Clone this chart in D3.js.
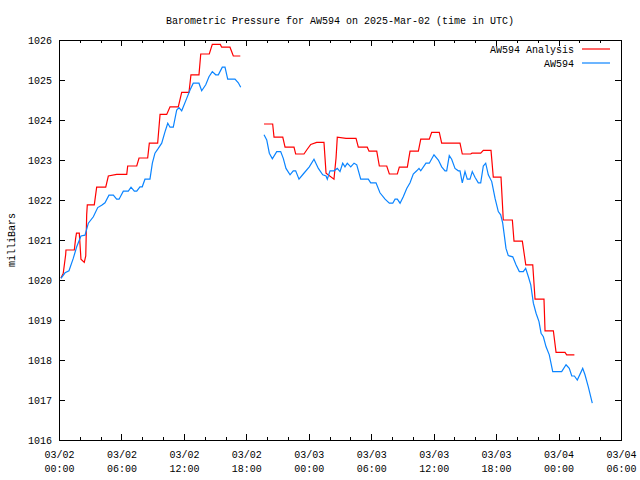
<!DOCTYPE html>
<html><head><meta charset="utf-8">
<script src="https://cdn.jsdelivr.net/npm/d3@7"></script>
<style>
body{margin:0;background:#fff;}
svg text{font-family:"Liberation Mono","DejaVu Sans Mono",monospace;font-size:10px;fill:#000;}
</style></head><body>
<svg id="chart" width="640" height="480"></svg>
<script>
// hours after 2025-03-02 00:00 UTC; null = gap
const obsHours = [0.19,0.58,0.96,1.37,1.70,2.11,2.50,2.82,3.30,3.72,4.10,4.42,4.80,5.22,5.54,5.77,6.18,6.66,6.92,7.24,7.47,7.78,8.00,8.26,8.74,8.97,9.22,9.54,9.87,10.19,10.45,10.67,10.98,11.31,11.53,11.79,12.27,12.59,12.90,13.45,13.71,14.10,14.41,14.73,15.06,15.31,15.69,15.95,16.21,16.91,17.23,17.46,
 18.5,
 19.70,19.96,20.21,20.50,20.92,21.30,21.55,21.81,22.20,22.51,22.74,23.06,23.47,24.05,24.50,24.92,25.34,25.66,25.78,26.04,26.42,26.74,27.00,27.26,27.48,27.70,28.03,28.35,28.61,28.99,29.72,29.95,30.46,30.84,31.33,31.74,32.07,32.29,32.51,32.77,33.08,33.41,33.73,34.04,34.37,34.59,34.76,35.26,35.58,36.03,36.45,36.77,37.09,37.25,37.50,37.73,38.05,38.37,38.53,38.75,39.01,39.23,39.49,39.71,39.97,40.29,40.52,40.77,41.00,41.25,41.58,41.90,42.21,42.44,42.63,42.76,42.95,43.17,43.60,43.91,44.23,44.61,44.84,45.10,45.33,45.58,45.84,46.12,46.32,46.54,46.80,47.11,47.44,48.30,48.72,49.03,49.27,49.52,49.80,50.32,50.54,50.86,51.24];
const obsValues = [1020.04,1020.18,1020.23,1020.54,1020.83,1021.10,1021.12,1021.42,1021.58,1021.81,1021.87,1021.93,1022.12,1022.12,1022.02,1022.02,1022.22,1022.22,1022.32,1022.22,1022.22,1022.33,1022.33,1022.52,1022.52,1022.92,1023.17,1023.29,1023.42,1023.71,1023.92,1023.82,1023.82,1024.25,1024.31,1024.23,1024.54,1024.75,1024.92,1024.92,1024.73,1024.88,1025.08,1025.21,1025.13,1025.13,1025.32,1025.32,1025.02,1025.02,1024.93,1024.82,
 null,
 1023.63,1023.50,1023.17,1023.03,1023.21,1023.21,1023.04,1022.79,1022.63,1022.73,1022.73,1022.52,1022.65,1022.83,1023.02,1022.79,1022.63,1022.60,1022.52,1022.73,1022.73,1022.79,1022.71,1022.92,1022.83,1022.92,1022.83,1022.92,1022.88,1022.52,1022.52,1022.43,1022.43,1022.18,1022.02,1021.92,1021.92,1022.02,1022.02,1021.92,1022.08,1022.29,1022.43,1022.65,1022.73,1022.79,1022.73,1022.92,1022.92,1023.13,1023.00,1022.83,1022.73,1022.73,1023.11,1023.02,1022.79,1022.73,1022.73,1022.43,1022.71,1022.52,1022.52,1022.71,1022.57,1022.43,1022.43,1022.85,1022.92,1022.63,1022.46,1022.04,1021.71,1021.63,1021.43,1021.17,1020.79,1020.61,1020.58,1020.38,1020.21,1020.21,1020.29,1020.08,1019.88,1019.42,1019.17,1018.96,1018.67,1018.58,1018.33,1018.13,1017.71,1017.71,1017.88,1017.79,1017.60,1017.60,1017.50,1017.79,1017.63,1017.33,1016.92];

const anaHours = [0.19,0.41,0.64,0.67,1.47,1.60,1.68,1.95,2.11,2.43,2.57,2.66,2.72,3.39,3.62,4.49,4.74,5.54,6.51,6.60,7.47,7.69,8.52,8.68,9.48,9.71,10.35,10.67,11.46,11.79,12.49,12.68,13.45,13.62,14.44,14.73,15.50,15.63,16.43,16.75,17.42,
 18.5,
 19.70,20.53,20.66,21.50,21.72,22.58,22.74,23.54,23.80,24.19,24.76,25.46,25.66,26.42,26.62,26.74,27.58,28.54,28.76,29.62,29.79,30.53,30.78,31.49,31.74,32.51,32.70,33.47,33.73,34.53,34.76,35.58,35.81,36.54,36.77,38.53,38.75,39.56,39.68,40.52,40.77,41.51,41.73,42.47,42.69,43.56,43.72,44.52,44.85,45.52,45.74,46.60,46.70,47.50,47.76,48.62,48.78,49.52];
const anaValues = [1020.05,1020.17,1020.63,1020.75,1020.75,1021.04,1021.17,1021.17,1020.52,1020.44,1020.60,1021.63,1021.88,1021.88,1022.32,1022.32,1022.60,1022.64,1022.64,1022.85,1022.85,1023.05,1023.05,1023.42,1023.42,1024.14,1024.14,1024.33,1024.33,1024.69,1024.69,1025.13,1025.13,1025.65,1025.65,1025.89,1025.89,1025.82,1025.82,1025.60,1025.60,
 null,
 1023.90,1023.90,1023.57,1023.57,1023.32,1023.32,1023.15,1023.15,1023.25,1023.39,1023.44,1023.44,1022.67,1022.52,1023.05,1023.57,1023.54,1023.54,1023.32,1023.32,1023.22,1023.22,1022.85,1022.85,1022.65,1022.65,1022.82,1022.82,1023.22,1023.22,1023.52,1023.52,1023.69,1023.69,1023.42,1023.42,1023.15,1023.15,1023.17,1023.17,1023.24,1023.24,1022.57,1022.57,1021.50,1021.50,1020.97,1020.97,1020.38,1020.38,1019.52,1019.52,1018.73,1018.73,1018.19,1018.19,1018.13,1018.13];

const yTicks = [1016,1017,1018,1019,1020,1021,1022,1023,1024,1025,1026];
const seriesNames = ["AW594 Analysis","AW594"];
const seriesColors = ["#ff0000","#0a84ff"];
const titleText = "Barometric Pressure for AW594 on 2025-Mar-02 (time in UTC)";
const yLabel = "milliBars";

const base = Date.UTC(2025,2,2,0,0);
const toDate = h => new Date(base + h*3600e3);

const L=59, R=621, T=40, B=440;
const svg = d3.select("#chart");
const x = d3.scaleUtc().domain([toDate(0), toDate(54)]).range([L,R]);
const y = d3.scaleLinear().domain([1016,1026]).range([B,T]);

// title
svg.append("text").attr("x",340).attr("y",24).attr("text-anchor","middle").text(titleText);
svg.append("text").attr("transform","translate(15,240) rotate(-90)").attr("text-anchor","middle").text(yLabel);

const fmtD = d3.utcFormat("%m/%d"), fmtH = d3.utcFormat("%H:%M");
const majorX = d3.utcHour.every(6).range(toDate(0), toDate(54.01));
const minorX = d3.utcHour.every(2).range(toDate(0), toDate(54.01));

// bottom axis
const gB = svg.append("g").attr("transform",`translate(0,${B})`)
  .call(d3.axisBottom(x).tickValues(majorX).tickSize(-6).tickSizeOuter(0).tickFormat(""));
gB.selectAll(".tick text").remove();
gB.selectAll(".tick").append("text").attr("y",18).attr("text-anchor","middle").each(function(d){
  d3.select(this).append("tspan").attr("x",0).attr("dy",0).text(fmtD(d));
  d3.select(this).append("tspan").attr("x",0).attr("dy",14).text(fmtH(d));
});
svg.append("g").attr("transform",`translate(0,${B})`)
  .call(d3.axisBottom(x).tickValues(minorX).tickSize(-3).tickSizeOuter(0).tickFormat(""));
// top axis mirror
svg.append("g").attr("transform",`translate(0,${T})`)
  .call(d3.axisTop(x).tickValues(majorX).tickSize(-6).tickSizeOuter(0).tickFormat(""));
svg.append("g").attr("transform",`translate(0,${T})`)
  .call(d3.axisTop(x).tickValues(minorX).tickSize(-3).tickSizeOuter(0).tickFormat(""));
// left axis
const gL = svg.append("g").attr("transform",`translate(${L},0)`)
  .call(d3.axisLeft(y).tickValues(yTicks).tickSize(-6).tickSizeOuter(0).tickPadding(7).tickFormat(d3.format("d")));
svg.append("g").attr("transform",`translate(${R},0)`)
  .call(d3.axisRight(y).tickValues(yTicks).tickSize(-6).tickSizeOuter(0).tickFormat(""));
svg.selectAll(".domain").remove();
svg.selectAll(".tick line").attr("stroke","#000").attr("shape-rendering","crispEdges");
svg.selectAll("g text").attr("font-size",null).attr("font-family",null);
// border
svg.append("rect").attr("x",L).attr("y",T).attr("width",R-L).attr("height",B-T)
  .attr("fill","none").attr("stroke","#000").attr("shape-rendering","crispEdges");

const line = d3.line().defined(d=>d[1]!==null).x(d=>x(toDate(d[0]))).y(d=>y(d[1]));
const anaData = anaHours.map((h,i)=>[h,anaValues[i]]);
const obsData = obsHours.map((h,i)=>[h,obsValues[i]]);
svg.append("path").datum(anaData).attr("d",line).attr("fill","none").attr("stroke",seriesColors[0]).attr("stroke-width",1.2);
svg.append("path").datum(obsData).attr("d",line).attr("fill","none").attr("stroke",seriesColors[1]).attr("stroke-width",1.2);

// legend
seriesNames.forEach((n,i)=>{
  const ly = 49 + i*14;
  svg.append("text").attr("x",574).attr("y",ly+3.5).attr("text-anchor","end").text(n);
  svg.append("line").attr("x1",582).attr("x2",610).attr("y1",ly).attr("y2",ly)
    .attr("stroke",seriesColors[i]).attr("stroke-width",1.2);
});
</script>
</body></html>
